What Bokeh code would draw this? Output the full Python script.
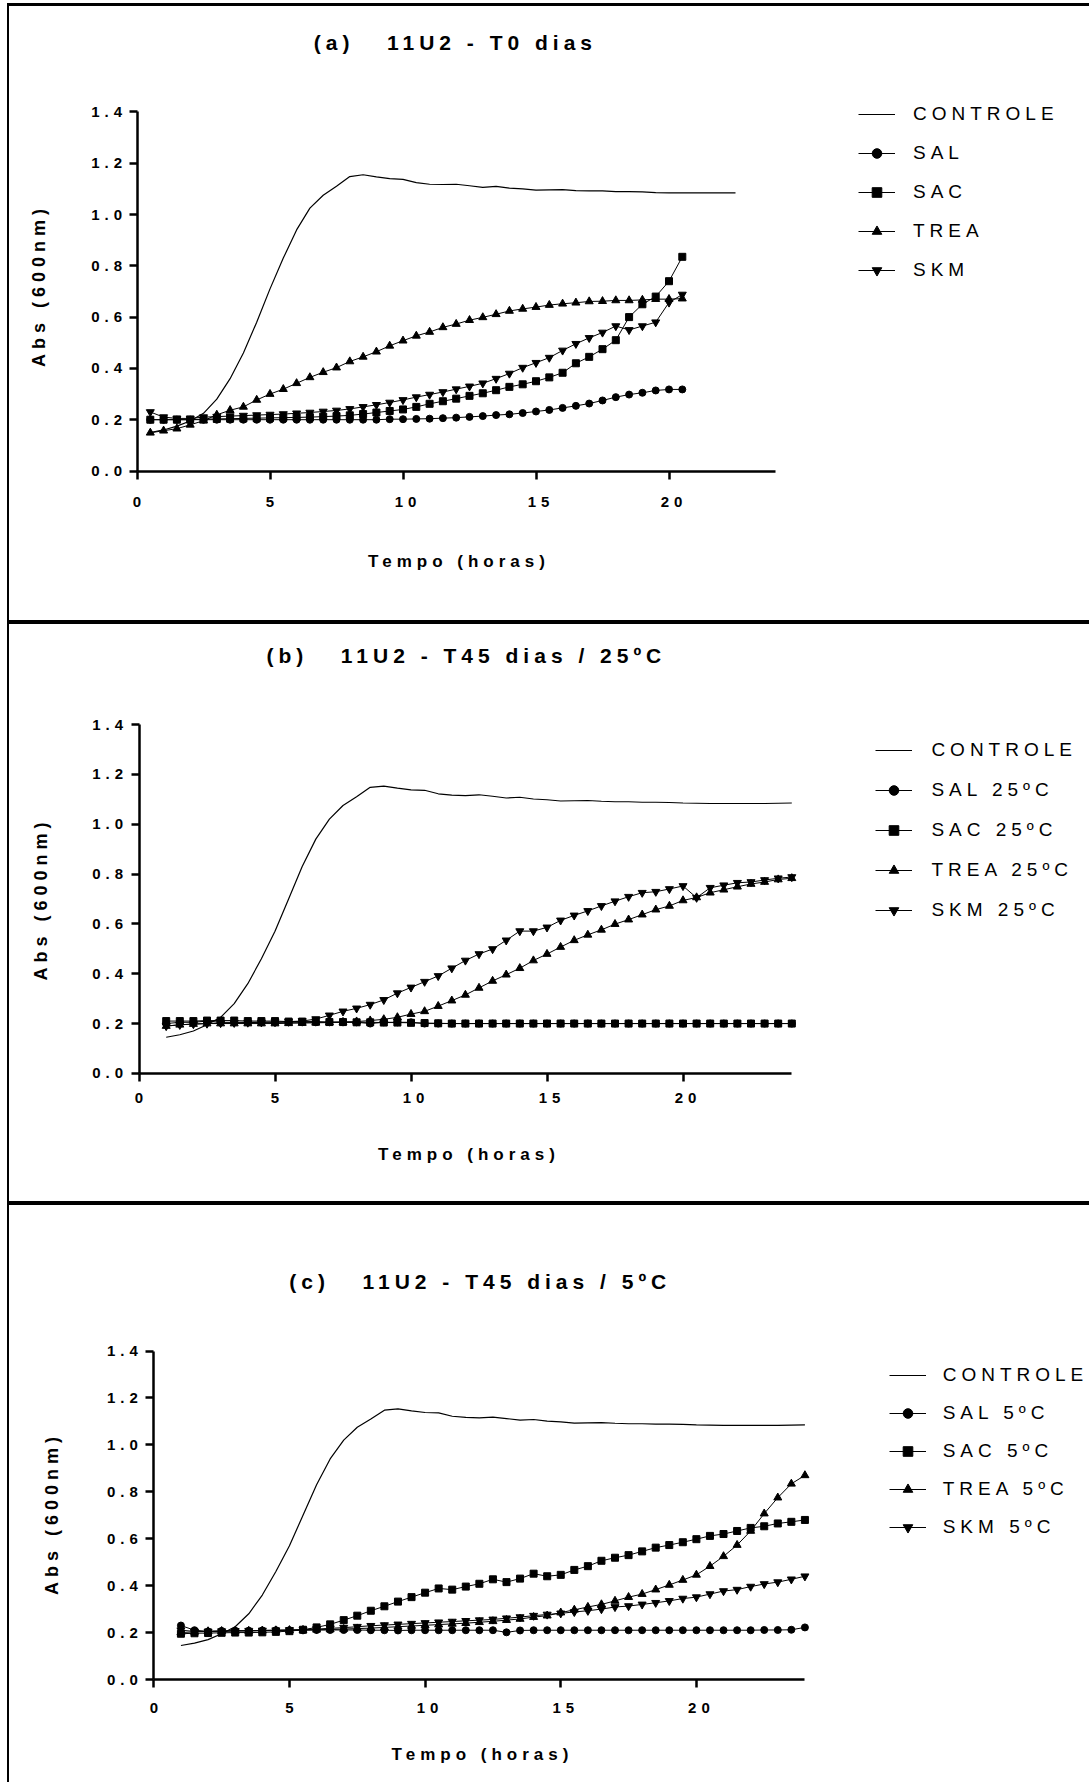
from bokeh.plotting import figure
from bokeh.models import (Legend, LegendItem, Range1d, FixedTicker, NumeralTickFormatter,
                          LinearAxis)
from bokeh.layouts import column
from bokeh.embed import file_html
from bokeh.resources import INLINE

FONT = "Liberation Sans"

# ---------------- data ----------------
T_A = [0.5, 1.0, 1.5, 2.0, 2.5, 3.0, 3.5, 4.0, 4.5, 5.0, 5.5, 6.0, 6.5, 7.0, 7.5, 8.0,
       8.5, 9.0, 9.5, 10.0, 10.5, 11.0, 11.5, 12.0, 12.5, 13.0, 13.5, 14.0, 14.5, 15.0,
       15.5, 16.0, 16.5, 17.0, 17.5, 18.0, 18.5, 19.0, 19.5, 20.0, 20.5]
T_A_CTRL = T_A + [21.0, 21.5, 22.0, 22.5]
T_BC = [1.0, 1.5, 2.0, 2.5, 3.0, 3.5, 4.0, 4.5, 5.0, 5.5, 6.0, 6.5, 7.0, 7.5, 8.0, 8.5,
        9.0, 9.5, 10.0, 10.5, 11.0, 11.5, 12.0, 12.5, 13.0, 13.5, 14.0, 14.5, 15.0, 15.5,
        16.0, 16.5, 17.0, 17.5, 18.0, 18.5, 19.0, 19.5, 20.0, 20.5, 21.0, 21.5, 22.0, 22.5,
        23.0, 23.5, 24.0]

X_TICKS = [0, 5, 10, 15, 20]
Y_TICKS = [0.0, 0.2, 0.4, 0.6, 0.8, 1.0, 1.2, 1.4]

CTRL_A = [0.150, 0.160, 0.175, 0.195, 0.225, 0.280, 0.360, 0.460, 0.580, 0.710, 0.830,
          0.940, 1.025, 1.075, 1.110, 1.148, 1.155, 1.147, 1.140, 1.137, 1.124, 1.118,
          1.117, 1.118, 1.112, 1.106, 1.110, 1.103, 1.100, 1.095, 1.096, 1.097, 1.093,
          1.092, 1.092, 1.089, 1.089, 1.088, 1.085, 1.084, 1.084, 1.084, 1.084, 1.084, 1.084]
SAL_A = [0.200, 0.200, 0.200, 0.200, 0.200, 0.200, 0.200, 0.200, 0.200, 0.200, 0.200,
         0.200, 0.200, 0.200, 0.200, 0.200, 0.200, 0.200, 0.202, 0.202, 0.203, 0.204,
         0.206, 0.208, 0.211, 0.214, 0.218, 0.221, 0.226, 0.232, 0.238, 0.246, 0.254,
         0.263, 0.275, 0.288, 0.298, 0.305, 0.314, 0.318, 0.318]
SAC_A = [0.200, 0.200, 0.200, 0.200, 0.202, 0.203, 0.204, 0.205, 0.206, 0.207, 0.208,
         0.209, 0.210, 0.212, 0.214, 0.217, 0.222, 0.228, 0.234, 0.240, 0.250, 0.262,
         0.272, 0.282, 0.293, 0.303, 0.315, 0.328, 0.338, 0.350, 0.365, 0.383, 0.420,
         0.445, 0.475, 0.510, 0.600, 0.650, 0.680, 0.740, 0.835]
TREA_A = [0.149, 0.157, 0.165, 0.180, 0.196, 0.219, 0.237, 0.250, 0.277, 0.300, 0.319,
          0.342, 0.365, 0.385, 0.403, 0.427, 0.445, 0.465, 0.488, 0.508, 0.527, 0.542,
          0.560, 0.573, 0.588, 0.599, 0.611, 0.624, 0.632, 0.639, 0.647, 0.652, 0.656,
          0.661, 0.662, 0.665, 0.665, 0.667, 0.670, 0.670, 0.672]
SKM_A = [0.230, 0.210, 0.205, 0.205, 0.210, 0.212, 0.214, 0.216, 0.218, 0.220, 0.222,
         0.225, 0.228, 0.232, 0.236, 0.242, 0.250, 0.258, 0.267, 0.277, 0.288, 0.298,
         0.308, 0.319, 0.330, 0.342, 0.360, 0.380, 0.403, 0.422, 0.442, 0.470, 0.496,
         0.519, 0.540, 0.565, 0.550, 0.565, 0.580, 0.657, 0.688]

CTRL_BC = [0.145, 0.155, 0.170, 0.195, 0.225, 0.280, 0.360, 0.460, 0.570, 0.700, 0.830,
           0.940, 1.020, 1.075, 1.110, 1.148, 1.153, 1.145, 1.138, 1.136, 1.122, 1.117,
           1.115, 1.118, 1.112, 1.105, 1.108, 1.101, 1.098, 1.093, 1.094, 1.095, 1.092,
           1.090, 1.090, 1.088, 1.088, 1.087, 1.085, 1.084, 1.083, 1.083, 1.083, 1.083,
           1.083, 1.084, 1.085]

SAL_B = [0.200, 0.205, 0.205, 0.210, 0.205, 0.205, 0.205, 0.205, 0.205, 0.205, 0.205,
         0.205, 0.205, 0.205, 0.205, 0.200, 0.205, 0.205, 0.205, 0.200, 0.200, 0.200,
         0.200, 0.200, 0.200, 0.200, 0.200, 0.200, 0.200, 0.200, 0.200, 0.200, 0.200,
         0.200, 0.200, 0.200, 0.200, 0.200, 0.200, 0.200, 0.200, 0.200, 0.200, 0.200,
         0.200, 0.200, 0.200]
SAC_B = [0.210, 0.210, 0.210, 0.212, 0.212, 0.212, 0.210, 0.210, 0.210, 0.208, 0.208,
         0.208, 0.206, 0.206, 0.205, 0.205, 0.204, 0.204, 0.203, 0.202, 0.201, 0.200,
         0.200, 0.200, 0.200, 0.200, 0.200, 0.200, 0.200, 0.200, 0.200, 0.200, 0.200,
         0.200, 0.200, 0.200, 0.200, 0.200, 0.200, 0.200, 0.200, 0.200, 0.200, 0.200,
         0.200, 0.200, 0.200]
TREA_B = [0.190, 0.195, 0.198, 0.200, 0.200, 0.200, 0.200, 0.200, 0.200, 0.201, 0.202,
          0.203, 0.204, 0.206, 0.208, 0.212, 0.217, 0.225, 0.238, 0.249, 0.270, 0.292,
          0.315, 0.343, 0.371, 0.396, 0.422, 0.453, 0.479, 0.507, 0.534, 0.556, 0.576,
          0.599, 0.617, 0.637, 0.657, 0.672, 0.694, 0.706, 0.725, 0.737, 0.749, 0.760,
          0.768, 0.778, 0.783]
SKM_B = [0.190, 0.195, 0.198, 0.200, 0.202, 0.203, 0.204, 0.205, 0.206, 0.208, 0.210,
         0.218, 0.233, 0.249, 0.261, 0.276, 0.295, 0.322, 0.345, 0.368, 0.391, 0.422,
         0.453, 0.479, 0.499, 0.534, 0.571, 0.571, 0.586, 0.614, 0.634, 0.652, 0.672,
         0.691, 0.709, 0.725, 0.729, 0.740, 0.752, 0.705, 0.745, 0.755, 0.765, 0.768,
         0.776, 0.783, 0.788]

SAL_C = [0.230, 0.210, 0.205, 0.207, 0.208, 0.208, 0.209, 0.210, 0.210, 0.210, 0.211,
         0.211, 0.211, 0.211, 0.210, 0.210, 0.209, 0.210, 0.210, 0.210, 0.210, 0.210,
         0.210, 0.210, 0.201, 0.209, 0.210, 0.210, 0.210, 0.210, 0.210, 0.210, 0.210,
         0.210, 0.210, 0.210, 0.210, 0.210, 0.210, 0.210, 0.210, 0.210, 0.210, 0.211,
         0.211, 0.212, 0.222]
SAC_C = [0.195, 0.197, 0.198, 0.199, 0.200, 0.200, 0.201, 0.203, 0.206, 0.212, 0.222,
         0.235, 0.253, 0.272, 0.293, 0.312, 0.332, 0.351, 0.370, 0.388, 0.383, 0.396,
         0.408, 0.427, 0.415, 0.430, 0.451, 0.440, 0.446, 0.467, 0.483, 0.506, 0.519,
         0.530, 0.546, 0.562, 0.573, 0.585, 0.598, 0.612, 0.620, 0.633, 0.646, 0.653,
         0.665, 0.672, 0.680]
TREA_C = [0.200, 0.203, 0.205, 0.206, 0.207, 0.207, 0.208, 0.209, 0.210, 0.211, 0.212,
          0.213, 0.215, 0.217, 0.219, 0.222, 0.225, 0.228, 0.231, 0.234, 0.237, 0.240,
          0.244, 0.248, 0.253, 0.258, 0.266, 0.272, 0.285, 0.297, 0.309, 0.320, 0.335,
          0.351, 0.364, 0.383, 0.403, 0.424, 0.446, 0.483, 0.525, 0.573, 0.633, 0.707,
          0.775, 0.834, 0.870]
SKM_C = [0.210, 0.205, 0.205, 0.206, 0.207, 0.208, 0.209, 0.210, 0.211, 0.213, 0.215,
         0.218, 0.221, 0.225, 0.229, 0.232, 0.235, 0.238, 0.241, 0.244, 0.247, 0.250,
         0.253, 0.256, 0.261, 0.266, 0.272, 0.277, 0.282, 0.288, 0.293, 0.300, 0.309,
         0.313, 0.320, 0.327, 0.335, 0.345, 0.351, 0.364, 0.377, 0.383, 0.396, 0.407,
         0.415, 0.427, 0.440]

TITLES = ["(a)\u00a0\u00a0\u00a011U2 - T0 dias",
          "(b)\u00a0\u00a0\u00a011U2 - T45 dias / 25ºC",
          "(c)\u00a0\u00a0\u00a011U2 - T45 dias / 5ºC"]
LABELS_A = ["CONTROLE", "SAL", "SAC", "TREA", "SKM"]
LABELS_B = ["CONTROLE", "SAL 25ºC", "SAC 25ºC", "TREA 25ºC", "SKM 25ºC"]
LABELS_C = ["CONTROLE", "SAL 5ºC", "SAC 5ºC", "TREA 5ºC", "SKM 5ºC"]
X_LABEL = "Tempo (horas)"
Y_LABEL = "Abs (600nm)"

MARKERS = [("circle", 7), ("square", 7), ("triangle", 8), ("inverted_triangle", 8)]
LS = 5          # letter spacing (px)
W = 1082        # canvas width of every panel


def panel(title, t_ctrl, ctrl, t, series, labels, g):
    H, F = g["h"], g["top"]
    x0, ppu = g["x0"], g["ppu"]
    y0, ppu_y = g["y0"], g["ppu_y"]
    xr = Range1d(-x0 / ppu, (W - x0) / ppu)
    yr = Range1d(-(H - y0) / ppu_y, (y0 - F) / ppu_y)
    p = figure(width=W, height=H, x_range=xr, y_range=yr,
               output_backend="svg", toolbar_location=None,
               min_border_left=0, min_border_right=0,
               min_border_top=F, min_border_bottom=0,
               background_fill_color="white", border_fill_color="white",
               styles=g["styles"])
    p.outline_line_color = None
    p.xgrid.visible = False
    p.ygrid.visible = False

    p.title.text = title
    p.title.text_font = FONT
    p.title.text_font_size = "21px"
    p.title.text_font_style = "bold"
    p.title.text_color = "black"
    p.title.align = "left"
    p.title.offset = g["t_off"]
    p.title.standoff = g["t_so"]

    xa, ya = p.xaxis[0], p.yaxis[0]
    for ax in (xa, ya):
        ax.fixed_location = 0
        ax.axis_line_width = 2.5
        ax.axis_line_color = "black"
        ax.major_tick_line_width = 2.5
        ax.major_tick_line_color = "black"
        ax.major_tick_out = 8
        ax.major_tick_in = 0
        ax.minor_tick_line_color = None
        ax.major_label_text_font = FONT
        ax.major_label_text_font_size = "15px"
        ax.major_label_text_font_style = "bold"
        ax.major_label_text_color = "black"
    xa.bounds = (0, 24)
    ya.bounds = (0, 1.4)
    xa.ticker = FixedTicker(ticks=X_TICKS)
    ya.ticker = FixedTicker(ticks=Y_TICKS)
    ya.formatter = NumeralTickFormatter(format="0.0")
    xa.major_label_standoff = g["xt_so"]
    ya.major_label_standoff = g["yt_so"]

    # axes that carry the axis titles
    xl = LinearAxis(axis_label=X_LABEL, fixed_location=0,
                    bounds=(g["xl_c"] - 5, g["xl_c"] + 5),
                    ticker=FixedTicker(ticks=[]), axis_line_color=None,
                    major_tick_line_color=None, minor_tick_line_color=None,
                    major_tick_out=0, major_tick_in=0, minor_tick_out=0, minor_tick_in=0,
                    axis_label_standoff=g["xl_so"], axis_label_text_font=FONT,
                    axis_label_text_font_size="17px", axis_label_text_font_style="bold",
                    axis_label_text_color="black")
    yl = LinearAxis(axis_label=Y_LABEL, fixed_location=0,
                    bounds=(g["yl_c"] - 0.3, g["yl_c"] + 0.3),
                    ticker=FixedTicker(ticks=[]), axis_line_color=None,
                    major_tick_line_color=None, minor_tick_line_color=None,
                    major_tick_out=0, major_tick_in=0, minor_tick_out=0, minor_tick_in=0,
                    axis_label_standoff=g["yl_so"], axis_label_text_font=FONT,
                    axis_label_text_font_size="18px", axis_label_text_font_style="bold",
                    axis_label_text_color="black")
    p.add_layout(xl, "below")
    p.add_layout(yl, "left")

    items = []
    r = p.line(t_ctrl, ctrl, line_color="black", line_width=1.2)
    items.append(LegendItem(label=labels[0], renderers=[r]))
    for (m, s), ys, lab in zip(MARKERS, series, labels[1:]):
        rl = p.line(t, ys, line_color="black", line_width=1)
        rs = p.scatter(t, ys, marker=m, size=s, fill_color="black", line_color="black")
        items.append(LegendItem(label=lab, renderers=[rl, rs]))

    leg = Legend(items=items, location=g["leg"], padding=0, margin=0,
                 border_line_alpha=0, background_fill_alpha=0,
                 glyph_width=37, glyph_height=24, label_height=24,
                 spacing=g["leg_sp"], label_standoff=g["leg_so"],
                 label_text_font=FONT, label_text_font_size="19px",
                 label_text_color="black")
    p.add_layout(leg)
    return p


base = {"margin-left": "7px", "border-left": "2px solid black",
        "letter-spacing": f"{LS}px"}

GA = dict(h=617, top=66, x0=127.5, ppu=26.6, y0=464.5, ppu_y=359.1 / 1.4,
          t_off=304.3, t_so=38, xt_so=18, yt_so=17, xl_c=10.876, xl_so=80,
          yl_c=0.616, yl_so=89, leg=(849, 341), leg_sp=15, leg_so=18,
          styles=dict(base, **{"margin-top": "3px", "border-top": "3px solid black"}))
GB = dict(h=581, top=54, x0=129.5, ppu=27.2, y0=448.9, ppu_y=348.9 / 1.4,
          t_off=257, t_so=23, xt_so=12, yt_so=18, xl_c=10.92, xl_so=71,
          yl_c=0.59, yl_so=89, leg=(866.4, 283.3), leg_sp=16, leg_so=19,
          styles=dict(base, **{"border-top": "4px solid black"}))
GC = dict(h=585, top=140, x0=144.3, ppu=27.13, y0=474, ppu_y=328.5 / 1.4,
          t_off=279.8, t_so=105, xt_so=15, yt_so=18, xl_c=10.925, xl_so=65,
          yl_c=0.591, yl_so=92, leg=(879.7, 251.5), leg_sp=14, leg_so=17,
          styles=dict(base, **{"border-top": "4px solid black"}))

pa = panel(TITLES[0], T_A_CTRL, CTRL_A, T_A, [SAL_A, SAC_A, TREA_A, SKM_A], LABELS_A, GA)
pb = panel(TITLES[1], T_BC, CTRL_BC, T_BC, [SAL_B, SAC_B, TREA_B, SKM_B], LABELS_B, GB)
pc = panel(TITLES[2], T_BC, CTRL_BC, T_BC, [SAL_C, SAC_C, TREA_C, SKM_C], LABELS_C, GC)

layout = column(pa, pb, pc, spacing=0)
open("out.html", "w").write(file_html(layout, INLINE))
